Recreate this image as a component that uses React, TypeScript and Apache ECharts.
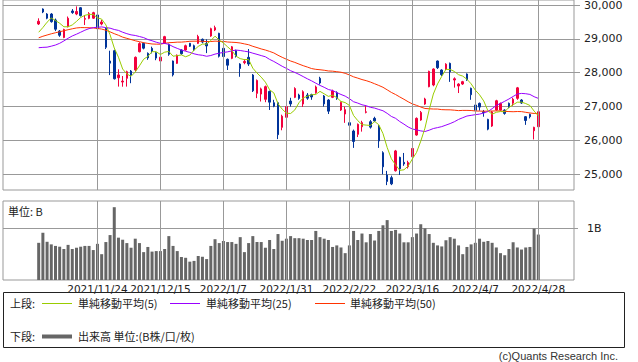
import React, { useEffect, useRef } from 'react';
import * as echarts from 'echarts';

const dates = [
  '2021/11/2','2021/11/4','2021/11/5','2021/11/8','2021/11/9','2021/11/10','2021/11/11','2021/11/12','2021/11/15','2021/11/16',
  '2021/11/17','2021/11/18','2021/11/19','2021/11/22','2021/11/24','2021/11/25','2021/11/26','2021/11/29','2021/11/30',
  '2021/12/1','2021/12/2','2021/12/3','2021/12/6','2021/12/7','2021/12/8','2021/12/9','2021/12/10','2021/12/13','2021/12/14',
  '2021/12/15','2021/12/16','2021/12/17','2021/12/20','2021/12/21','2021/12/22','2021/12/23','2021/12/24','2021/12/27','2021/12/28',
  '2021/12/29','2021/12/30',
  '2022/1/4','2022/1/5','2022/1/6','2022/1/7','2022/1/11','2022/1/12','2022/1/13','2022/1/14','2022/1/17','2022/1/18',
  '2022/1/19','2022/1/20','2022/1/21','2022/1/24','2022/1/25','2022/1/26','2022/1/27','2022/1/28','2022/1/31',
  '2022/2/1','2022/2/2','2022/2/3','2022/2/4','2022/2/7','2022/2/8','2022/2/9','2022/2/10','2022/2/14','2022/2/15',
  '2022/2/16','2022/2/17','2022/2/18','2022/2/21','2022/2/22','2022/2/24','2022/2/25','2022/2/28',
  '2022/3/1','2022/3/2','2022/3/3','2022/3/4','2022/3/7','2022/3/8','2022/3/9','2022/3/10','2022/3/11','2022/3/14',
  '2022/3/15','2022/3/16','2022/3/17','2022/3/18','2022/3/22','2022/3/23','2022/3/24','2022/3/25','2022/3/28','2022/3/29',
  '2022/3/30','2022/3/31',
  '2022/4/1','2022/4/4','2022/4/5','2022/4/6','2022/4/7','2022/4/8','2022/4/11','2022/4/12','2022/4/13','2022/4/14',
  '2022/4/15','2022/4/18','2022/4/19','2022/4/20','2022/4/21','2022/4/22','2022/4/25','2022/4/26','2022/4/27','2022/4/28',
];

const opens = [
  29440,29882,29734,29734,29557,29232,29040,29360,29823,29734,29920,29580,29607,29610,29705,29439,29310,28345,28650,
  27852,27725,27835,28050,28080,28620,28868,28572,28720,28591,28346,28868,28839,28346,28277,28670,28670,28868,28798,28868,
  28986,28868,
  29084,29261,29163,28720,28396,28424,28650,28257,28296,28454,27932,27390,27370,27214,27449,27114,27114,26387,26683,
  27164,27273,27341,27075,27341,27351,27410,27835,27312,27194,27273,27410,26898,26780,26523,26278,26180,26405,
  26830,26553,26652,26425,25638,24978,24900,25105,25500,25352,25224,25520,26160,26603,27075,27587,27637,28346,28080,28109,
  28277,27785,
  27607,27666,27962,27539,27046,27095,26848,26622,26425,26898,26898,26898,27095,27100,27243,27194,26701,26770,26287,26405,
];

const closes = [
  29520,29794,29611,29507,29285,29106,29277,29609,29776,29808,29688,29598,29745,29774,29302,29499,28751,28283,27821,
  27935,27753,28029,27927,28455,28860,28725,28437,28640,28432,28459,29066,28545,27937,28517,28562,28798,28782,28676,29069,
  28906,28791,
  29301,29332,28487,28478,28222,28765,28489,28124,28333,28257,27467,27772,27522,27588,27131,27011,26170,26717,27001,
  27078,27533,27241,27439,27248,27284,27579,27696,27079,26865,27460,27232,27122,26910,26449,25970,26476,26526,
  26844,26393,26577,25985,25221,24790,24717,25690,25162,25307,25346,25762,26652,26827,27224,28040,28110,28149,27943,28252,
  28027,27821,
  27665,27736,27787,27350,26888,26985,26821,26334,26843,27172,27093,26799,26985,27217,27553,27105,26590,26700,26386,26847,
];

const lows = [
  29409,29760,29580,29480,29230,29060,29020,29340,29740,29700,29660,29409,29580,29590,29280,29400,28700,27930,27800,
  27590,27587,27590,27690,28050,28600,28690,28380,28570,28370,28300,28850,28500,27890,28260,28530,28650,28760,28640,28850,
  28870,28580,
  29060,29230,28450,28430,28080,28400,28450,27880,28250,28200,27430,27250,27150,27130,26900,26980,26040,26300,26620,
  27000,27250,27200,26990,27200,27200,27380,27650,27000,26780,27250,27200,26870,26520,26400,25780,26100,26260,
  26800,26350,26540,25780,25000,24680,24680,25080,24980,25250,25170,25500,26140,26580,27050,27570,27600,28110,27900,28080,
  27730,27560,
  27400,27640,27760,27200,26850,26880,26700,26300,26400,26880,26880,26760,26950,27020,27200,27080,26460,26650,26030,26380,
];

const highs = [
  29607,29900,29760,29760,29600,29260,29300,29660,29880,29960,29940,29705,29790,29800,29720,29560,29330,28650,28680,
  28100,27903,28060,28080,28480,28900,28890,28600,28770,28620,28480,29090,28860,28360,28540,28690,28830,28880,28830,29120,
  29010,28986,
  29330,29390,29180,28750,28420,28790,28680,28280,28400,28700,27960,27800,27560,27620,27470,27200,27140,26760,27030,
  27260,27570,27380,27480,27400,27380,27620,27880,27340,27220,27500,27450,27150,27000,26600,26320,26500,26580,
  27016,26600,26700,26450,25680,25100,24960,25720,25520,25630,25400,25800,26680,26870,27260,28060,28130,28360,28100,28280,
  28300,27863,
  27690,27760,27980,27560,27070,27120,26900,26640,26870,27200,27120,26920,27120,27260,27580,27220,26720,26790,26405,26880,
];

const volumes = [
  0.72,0.915,0.74,0.69,0.66,0.645,0.60,0.68,0.60,0.625,0.645,0.66,0.66,0.58,0.70,0.50,0.735,0.87,1.41,
  0.82,0.78,0.715,0.625,0.80,0.715,0.54,0.64,0.55,0.56,0.56,0.60,0.85,0.66,0.56,0.445,0.43,0.355,0.37,0.465,
  0.45,0.405,
  0.66,0.79,0.715,0.755,0.735,0.735,0.70,0.83,0.54,0.715,0.85,0.735,0.735,0.625,0.775,0.60,0.89,0.76,0.80,
  0.85,0.81,0.81,0.80,0.775,0.775,0.95,0.83,0.80,0.775,0.64,0.67,0.63,0.52,0.67,0.95,0.775,0.90,
  0.73,0.89,0.765,0.95,1.06,1.16,0.95,0.97,0.90,0.73,0.73,0.83,0.90,1.08,1.0,0.89,0.72,0.67,0.65,0.77,
  0.83,0.80,
  0.67,0.50,0.64,0.69,0.72,0.80,0.74,0.755,0.72,0.63,0.52,0.48,0.60,0.73,0.63,0.59,0.63,0.64,0.995,0.88,
];

const ma5 = [
  29195,29335,29493,29616,29543,29461,29357,29357,29411,29515,29632,29696,29723,29723,29621,29584,29414,29122,28731,
  28458,28109,27964,27893,28020,28205,28399,28481,28623,28619,28539,28607,28628,28488,28505,28525,28472,28519,28667,28777,
  28846,28845,
  28949,29080,28963,28878,28764,28657,28488,28416,28387,28394,28134,27991,27870,27721,27496,27405,27084,26923,26806,
  26795,26900,27114,27258,27308,27349,27358,27449,27377,27301,27336,27266,27152,27118,27035,26737,26585,26466,
  26453,26442,26563,26465,26204,25793,25458,25281,25116,25133,25244,25453,25646,25979,26362,26901,27371,27670,27893,28099,
  28096,28038,
  27942,27900,27807,27672,27485,27349,27166,26876,26774,26831,26853,26848,26978,27053,27129,27132,27090,27033,26867,26726,
];

const ma25 = [
  28739,28749,28755,28784,28818,28869,28939,29017,29086,29138,29196,29255,29303,29331,29342,29353,29333,29316,29277,
  29250,29196,29153,29118,29100,29069,29037,28982,28944,28901,28868,28866,28837,28770,28719,28670,28634,28601,28559,28530,
  28515,28486,
  28508,28550,28577,28599,28617,28647,28669,28656,28635,28616,28577,28543,28506,28471,28394,28333,28262,28190,28128,
  28059,28009,27951,27886,27820,27760,27691,27625,27569,27504,27474,27413,27358,27309,27234,27143,27103,27053,
  27026,26978,26956,26915,26877,26800,26709,26653,26558,26481,26397,26338,26312,26282,26263,26302,26352,26379,26408,26453,
  26498,26552,
  26620,26671,26721,26741,26761,26777,26811,26855,26938,27036,27092,27157,27224,27299,27371,27389,27380,27359,27292,27242,
];

const ma50 = [
  29031,29077,29114,29150,29181,29210,29240,29270,29297,29322,29333,29332,29329,29321,29307,29289,29255,29207,29153,
  29106,29051,29015,28980,28944,28917,28888,28866,28849,28843,28843,28868,28888,28893,28903,28904,28915,28928,28931,28931,
  28928,28920,
  28921,28933,28927,28924,28907,28900,28893,28878,28852,28827,28780,28743,28703,28670,28630,28585,28516,28455,28399,
  28346,28305,28255,28208,28167,28123,28100,28088,28073,28052,28046,28030,28014,27983,27935,27879,27840,27798,
  27766,27725,27675,27624,27570,27495,27418,27356,27284,27216,27142,27079,27036,26987,26944,26935,26928,26927,26910,26905,
  26904,26893,
  26881,26887,26887,26884,26870,26867,26863,26866,26869,26872,26872,26858,26853,26848,26854,26851,26831,26811,26797,26797,
];

const xLabelDates = ['2021/11/24','2021/12/15','2022/1/7','2022/1/31','2022/2/22','2022/3/16','2022/4/7','2022/4/28'];
const priceTicks = [25000, 26000, 27000, 28000, 29000, 30000];
const volumeTicks = [1];

const UP = '#f2003c';
const DOWN = '#003399';
const C_MA5 = '#99cc00';
const C_MA25 = '#9900ff';
const C_MA50 = '#ff3300';
const GRID = '#999999';
const PAD = 8;
const LABEL_FONT = 'DejaVu Sans';
const JP_FONT = '"Noto Sans CJK JP", "Noto Sans", sans-serif';

export default function App() {
  const ref = useRef<HTMLDivElement>(null);

  useEffect(() => {
    if (!ref.current) return;
    const chart = echarts.init(ref.current, null, { renderer: 'svg' });

    const cats = [
      ...Array.from({ length: PAD }, (_, k) => `pre${k}`),
      ...dates,
      ...Array.from({ length: PAD }, (_, k) => `post${k}`),
    ];

    const candleData = dates.map((d, k) => [d, opens[k], closes[k], lows[k], highs[k]]);
    const lineData = (arr: number[]) => dates.map((d, k) => [d, arr[k]]);
    const volData = dates.map((d, k) => [d, volumes[k]]);

    const vGridLine = (xi: number, yi: number) => ({
      type: 'line',
      xAxisIndex: xi,
      yAxisIndex: yi,
      data: [],
      z: 1,
      silent: true,
      markLine: {
        silent: true,
        symbol: ['none', 'none'],
        label: { show: false },
        emphasis: { disabled: true },
        lineStyle: { color: GRID, type: 'solid', width: 1 },
        data: xLabelDates.map((d) => ({ xAxis: d })),
      },
    });

    const jpText = (text: string, x: number, y: number) => ({
      type: 'text',
      x,
      y,
      silent: true,
      style: {
        text,
        fontSize: 11,
        fontFamily: JP_FONT,
        fill: '#222',
        align: 'left',
        verticalAlign: 'middle',
      },
    });

    const legendLine = (x1: number, x2: number, y: number, color: string, w: number) => ({
      type: 'line',
      silent: true,
      shape: { x1, y1: y, x2, y2: y },
      style: { stroke: color, lineWidth: w },
    });

    const option: any = {
      animation: false,
      backgroundColor: '#ffffff',
      grid: [
        { left: 3, top: 0, width: 571, height: 190, show: true, borderColor: GRID, borderWidth: 1, backgroundColor: 'transparent', containLabel: false, outerBoundsMode: 'none' },
        { left: 3, top: 201, width: 571, height: 79, show: true, borderColor: GRID, borderWidth: 1, backgroundColor: 'transparent', containLabel: false, outerBoundsMode: 'none' },
      ],
      xAxis: [
        {
          type: 'category', gridIndex: 0, data: cats, boundaryGap: true,
          axisLine: { show: false }, axisTick: { show: false }, axisLabel: { show: false }, splitLine: { show: false },
        },
        {
          type: 'category', gridIndex: 1, data: cats, boundaryGap: true,
          axisLine: { show: false }, axisTick: { show: false }, splitLine: { show: false },
          axisLabel: {
            interval: (_i: number, v: string) => xLabelDates.includes(v),
            hideOverlap: false,
            fontFamily: LABEL_FONT, fontSize: 10.5, color: '#222', margin: 3,
          },
        },
      ],
      yAxis: [
        {
          type: 'value', gridIndex: 0, position: 'right', min: 24536, max: 30148,
          axisLine: { show: false },
          axisTick: { show: true, length: 6, customValues: priceTicks, lineStyle: { color: GRID } },
          axisLabel: {
            customValues: priceTicks,
            formatter: (v: number) => Number(v).toLocaleString('en-US'),
            fontFamily: LABEL_FONT, fontSize: 11, color: '#222', margin: 10,
          },
          splitLine: { show: true, lineStyle: { color: GRID, width: 1 } },
        },
        {
          type: 'value', gridIndex: 1, position: 'right', min: 0, max: 1.53,
          axisLine: { show: false },
          axisTick: { show: true, length: 4, customValues: volumeTicks, lineStyle: { color: GRID } },
          axisLabel: {
            customValues: volumeTicks,
            formatter: (v: number) => `${v}B`,
            fontFamily: LABEL_FONT, fontSize: 11, color: '#222', margin: 13,
          },
          splitLine: { show: true, lineStyle: { color: GRID, width: 1 } },
        },
      ],
      series: [
        vGridLine(0, 0),
        vGridLine(1, 1),
        {
          type: 'candlestick', name: 'price', xAxisIndex: 0, yAxisIndex: 0, z: 3,
          data: candleData,
          encode: { x: 0, y: [1, 2, 3, 4] },
          barWidth: 2,
          itemStyle: { color: UP, color0: DOWN, borderColor: UP, borderColor0: DOWN, borderWidth: 1 },
          emphasis: { disabled: true },
        },
        {
          type: 'line', name: 'ma50', xAxisIndex: 0, yAxisIndex: 0, z: 4, data: lineData(ma50),
          symbol: 'none', lineStyle: { color: C_MA50, width: 1 }, emphasis: { disabled: true },
        },
        {
          type: 'line', name: 'ma25', xAxisIndex: 0, yAxisIndex: 0, z: 4, data: lineData(ma25),
          symbol: 'none', lineStyle: { color: C_MA25, width: 1 }, emphasis: { disabled: true },
        },
        {
          type: 'line', name: 'ma5', xAxisIndex: 0, yAxisIndex: 0, z: 5, data: lineData(ma5),
          symbol: 'none', lineStyle: { color: C_MA5, width: 1 }, emphasis: { disabled: true },
        },
        {
          type: 'bar', name: 'volume', xAxisIndex: 1, yAxisIndex: 1, z: 3, data: volData,
          barWidth: 3, itemStyle: { color: '#666666' }, emphasis: { disabled: true },
        },
      ],
      graphic: [
        {
          type: 'text', x: 8, y: 211, silent: true,
          style: { text: '単位: B', fontSize: 11, fontFamily: JP_FONT, fill: '#222', align: 'left', verticalAlign: 'middle' },
        },
        {
          type: 'rect', silent: true,
          shape: { x: 3.5, y: 292.5, width: 621, height: 55 },
          style: { fill: 'none', stroke: '#222', lineWidth: 1 },
        },
        jpText('上段:', 10, 303),
        legendLine(42, 72, 303.5, C_MA5, 1),
        jpText('単純移動平均(5)', 78, 303),
        legendLine(170, 200, 303.5, C_MA25, 1),
        jpText('単純移動平均(25)', 206, 303),
        legendLine(315, 345, 303.5, C_MA50, 1),
        jpText('単純移動平均(50)', 350, 303),
        jpText('下段:', 10, 336),
        legendLine(42, 72, 336.5, '#666666', 4),
        jpText('出来高 単位:(B株/口/枚)', 78, 336),
        {
          type: 'text', x: 618, y: 356, silent: true,
          style: { text: '(c)Quants Research Inc.', fontSize: 11, fontFamily: 'Liberation Sans', fill: '#333', align: 'right', verticalAlign: 'middle' },
        },
      ],
    };

    chart.setOption(option);
    return () => chart.dispose();
  }, []);

  return (
    <div
      ref={ref}
      style={{ position: 'fixed', left: 0, top: 0, width: 638, height: 362, background: '#fff' }}
    />
  );
}
